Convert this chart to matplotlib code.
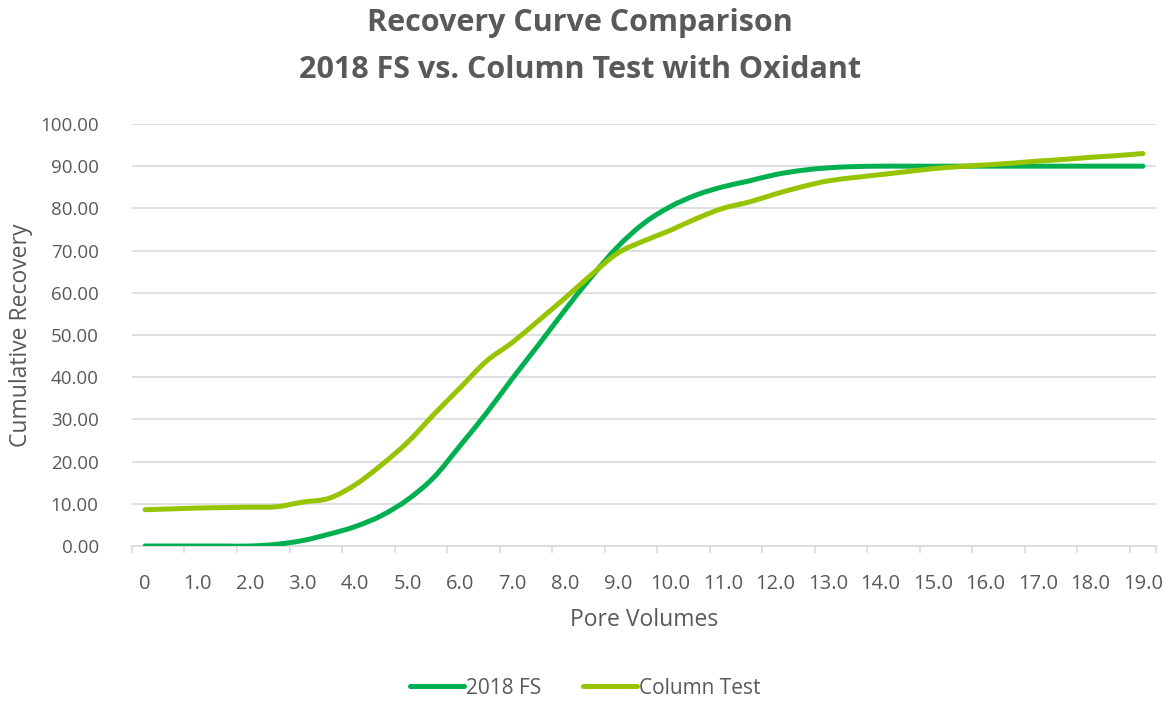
import matplotlib
matplotlib.use("Agg")
import matplotlib.pyplot as plt
from matplotlib.path import Path
from matplotlib.patches import PathPatch
from matplotlib.lines import Line2D

plt.rcParams['font.family'] = ['Open Sans', 'DejaVu Sans']

# pore volumes, sampled every half volume
pore_volumes = [i * 0.5 for i in range(39)]

fs_2018 = [0.0, 0.0, 0.0, 0.0, 0.0,
           0.4, 1.3, 2.8, 4.6, 7.2,
           11.0, 16.3, 23.8, 31.5, 39.8,
           47.8, 56.0, 63.8, 70.9, 76.5,
           80.4, 83.2, 85.1, 86.5, 88.0,
           89.0, 89.6, 89.9, 90.0, 90.0,
           90.0, 90.0, 90.0, 90.0, 90.0,
           90.0, 90.0, 90.0, 90.0]

column_test = [8.6, 8.8, 9.0, 9.1, 9.2,
               9.3, 10.4, 11.3, 14.5, 19.2,
               24.6, 31.2, 37.5, 43.8, 48.3,
               53.5, 58.8, 64.3, 69.4, 72.3,
               74.8, 77.6, 80.0, 81.5, 83.4,
               85.1, 86.5, 87.3, 88.0, 88.7,
               89.4, 89.9, 90.3, 90.7, 91.2,
               91.6, 92.1, 92.5, 93.0]

series_names = ["2018 FS", "Column Test"]
series_colors = ["#00B050", "#97C400"]

tick_values = list(range(20))
tick_labels = ["0"] + [f"{v:.1f}" for v in tick_values[1:]]

GRAY = "#595959"


def smooth_path(xs, ys):
    # cubic bezier through every point, like a spreadsheet "smoothed line"
    pts = list(zip(xs, ys))
    verts = [pts[0]]
    codes = [Path.MOVETO]
    n = len(pts)
    for i in range(n - 1):
        p0 = pts[i - 1] if i > 0 else pts[i]
        p1 = pts[i]
        p2 = pts[i + 1]
        p3 = pts[i + 2] if i + 2 < n else pts[i + 1]
        c1 = (p1[0] + (p2[0] - p0[0]) / 6, p1[1] + (p2[1] - p0[1]) / 6)
        c2 = (p2[0] - (p3[0] - p1[0]) / 6, p2[1] - (p3[1] - p1[1]) / 6)
        verts += [c1, c2, p2]
        codes += [Path.CURVE4] * 3
    return Path(verts, codes)


fig = plt.figure(figsize=(11.71, 7.02), dpi=100)
ax = fig.add_axes([0.1127, 0.2222, 0.8745, 0.6012])

for ys, name, color in zip([fs_2018, column_test], series_names, series_colors):
    patch = PathPatch(smooth_path(pore_volumes, ys), fill=False, edgecolor=color,
                      linewidth=3.6, capstyle='round', joinstyle='round', zorder=3)
    ax.add_patch(patch)

ax.set_xlim(-0.25, 19.25)
ax.set_ylim(0, 100)

ax.set_yticks(range(0, 101, 10))
ax.set_yticklabels([f"{v:.2f}" for v in range(0, 101, 10)])
ax.set_xticks(tick_values)
ax.set_xticklabels(tick_labels)
ax.set_xticks([v - 0.25 for v in tick_values] + [19.25], minor=True)

ax.grid(axis='y', color="#D9D9D9", linewidth=1.2)
ax.set_axisbelow(True)
for side in ["top", "right", "left"]:
    ax.spines[side].set_visible(False)
ax.spines["bottom"].set_color("#D9D9D9")
ax.spines["bottom"].set_linewidth(1.2)

ax.tick_params(axis='y', length=0, pad=24, labelsize=13.5, labelcolor=GRAY)
ax.tick_params(axis='x', which='major', length=0, pad=20, labelsize=14.5, labelcolor=GRAY)
ax.tick_params(axis='x', which='minor', length=5, width=1.2, color="#D9D9D9")

ax.set_xlabel("Pore Volumes", fontsize=16.5, color=GRAY, labelpad=10)
ax.set_ylabel("Cumulative Recovery", fontsize=16.5, color=GRAY, labelpad=5)

fig.suptitle("Recovery Curve Comparison\n2018 FS vs. Column Test with Oxidant",
             x=0.495, y=0.988, fontsize=22, fontweight='bold', color=GRAY,
             linespacing=1.7)

handles = [Line2D([], [], color=c, linewidth=3.6, solid_capstyle='round')
           for c in series_colors]
leg = fig.legend(handles, series_names, loc='center', ncol=2,
                 bbox_to_anchor=(0.5, 1 - 688 / 702), frameon=False, fontsize=15,
                 handlelength=2.6, handletextpad=0.1, columnspacing=2.0)
for t in leg.get_texts():
    t.set_color(GRAY)

fig.savefig("out.png", dpi=100)
